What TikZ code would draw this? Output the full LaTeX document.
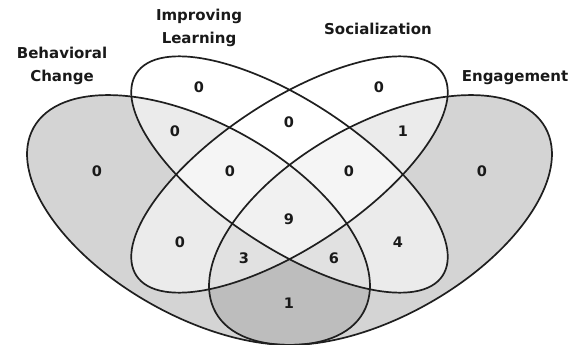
\documentclass[tikz,border=0pt]{standalone}
\usepackage{fontspec}
\setmainfont{DejaVu Sans}
\begin{document}
\begin{tikzpicture}[x=1pt,y=-1pt,
  lbl/.style={font=\fontsize{15}{22.5}\selectfont\bfseries, align=center, inner sep=0pt, text=black!90},
  num/.style={font=\fontsize{14.5}{16}\selectfont\bfseries, inner sep=0pt, text=black!90},
  outline/.style={line width=1.7pt, draw=black!88}]
\definecolor{bcgray}{gray}{0.83}
\definecolor{dkgray}{gray}{0.74}
\useasboundingbox (0,0) rectangle (579,345);
\def\pBC{(198.5,220) circle [x radius=189pt, y radius=96.3pt, rotate=-29.3]}
\def\pE{(380.5,220) circle [x radius=189pt, y radius=96.3pt, rotate=29.3]}
\def\pIL{(289.5,174.5) circle [x radius=183.5pt, y radius=73pt, rotate=-33.5]}
\def\pSoc{(289.5,174.5) circle [x radius=183.5pt, y radius=73pt, rotate=33.5]}
% fills
\fill[bcgray] \pBC;
\fill[bcgray] \pE;
\begin{scope}
  \clip \pBC;
  \fill[dkgray] \pE;
\end{scope}
\fill[white, opacity=0.55] \pIL;
\fill[white, opacity=0.55] \pSoc;
% outlines
\draw[outline] \pBC;
\draw[outline] \pE;
\draw[outline] \pIL;
\draw[outline] \pSoc;
% labels
\node[lbl] (lbc) at (62,66) {Behavioral\\Change};
\node[lbl] (lil) at (199,28) {Improving\\Learning};
\node[lbl] (lsoc) at (378,29) {Socialization};
\node[lbl] (leng) at (515,78) {Engagement};
% numbers
\node[num] (n1) at (97,171) {0};
\node[num] (n2) at (199,87) {0};
\node[num] (n3) at (379,87) {0};
\node[num] (n4) at (482,171) {0};
\node[num] (n5) at (175,131) {0};
\node[num] (n6) at (289,122) {0};
\node[num] (n7) at (403,131) {1};
\node[num] (n8) at (230,171) {0};
\node[num] (n9) at (349,171) {0};
\node[num] (n10) at (289,219) {9};
\node[num] (n11) at (180,242) {0};
\node[num] (n12) at (398,242) {4};
\node[num] (n13) at (244,258) {3};
\node[num] (n14) at (334,258) {6};
\node[num] (n15) at (289,303) {1};
\end{tikzpicture}
\end{document}
